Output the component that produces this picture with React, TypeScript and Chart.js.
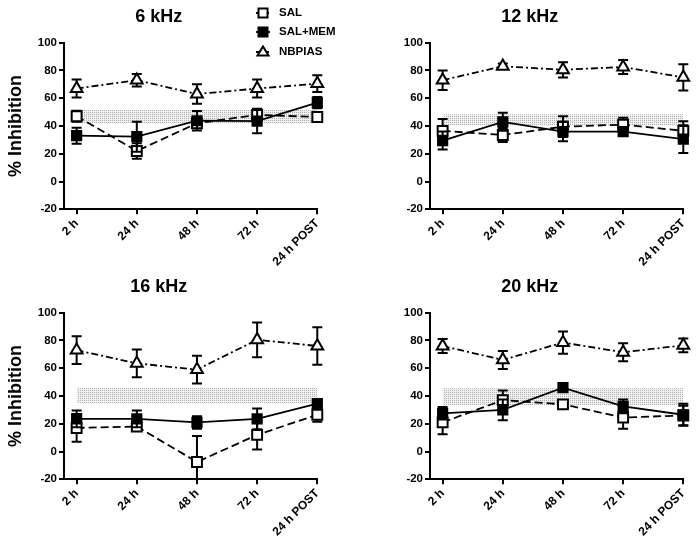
import React, { useEffect, useRef } from 'react';
import { Chart, registerables } from 'chart.js';

Chart.register(...registerables);

// ---------- data ----------
const timeLabels = ['2 h', '24 h', '48 h', '72 h', '24 h POST'];
const seriesNames = ['SAL', 'SAL+MEM', 'NBPIAS'];
const yTickValues = [-20, 0, 20, 40, 60, 80, 100];
const panelTitles = ['6 kHz', '12 kHz', '16 kHz', '20 kHz'];

// 6 kHz
const sal6 = [47, 22, 42, 48, 46.5];
const salErr6 = [4, 5.5, 3, 4.5, 3.5];
const mem6 = [33, 32.3, 43.8, 43.5, 56.8];
const memErr6 = [5.7, 10.8, 7, 8.7, 4];
const nb6 = [67, 73, 63, 67, 70.5];
const nbErr6 = [6.5, 4.5, 7, 6.5, 6];
const band6 = [42, 51.5];

// 12 kHz
const sal12 = [36.5, 33.5, 39.5, 41, 36.5];
const salErr12 = [8.5, 5, 7.5, 5, 7];
const mem12 = [29.5, 43, 36, 36, 30.5];
const memErr12 = [6.5, 6.5, 7, 2.5, 10];
const nb12 = [73, 83, 80.5, 82.5, 75];
const nbErr12 = [7, 2, 5.5, 5, 9.5];
const band12 = [40.5, 48.5];

// 16 kHz
const sal16 = [17, 18, -7.5, 12, 26.5];
const salErr16 = [10, 3, 18.7, 10.5, 5];
const mem16 = [23.5, 23.5, 21, 23.5, 34.5];
const memErr16 = [6, 6, 4.5, 7.5, 3];
const nb16 = [73, 63.5, 59, 80.5, 76];
const nbErr16 = [10, 10, 10, 12.5, 13.5];
const band16 = [35, 46];

// 20 kHz
const sal20 = [21, 37, 34, 24.5, 26];
const salErr20 = [8.5, 7, 2, 8, 7];
const mem20 = [27.5, 30, 46, 32.5, 26.5];
const memErr20 = [4.5, 7.5, 3, 5, 8];
const nb20 = [76, 66, 78.5, 71.5, 76.5];
const nbErr20 = [5, 6.5, 8, 6.5, 5];
const band20 = [33.5, 45.5];

// ---------- styling ----------
const FONT = "'Liberation Sans', Arial, Helvetica, sans-serif";

type Panel = {
  title: string;
  sal: number[]; salErr: number[];
  mem: number[]; memErr: number[];
  nb: number[]; nbErr: number[];
  band: number[];
  left: number; top: number; w: number; h: number;
  yWidth: number; padRight: number; yTitle: boolean; legend: boolean;
};

const panels: Panel[] = [
  { title: panelTitles[0], sal: sal6, salErr: salErr6, mem: mem6, memErr: memErr6, nb: nb6, nbErr: nbErr6, band: band6,
    left: 0, top: 0, w: 347, h: 270, yWidth: 64, padRight: 29.7, yTitle: true, legend: true },
  { title: panelTitles[1], sal: sal12, salErr: salErr12, mem: mem12, memErr: memErr12, nb: nb12, nbErr: nbErr12, band: band12,
    left: 376, top: 0, w: 324, h: 270, yWidth: 54, padRight: 16.7, yTitle: false, legend: false },
  { title: panelTitles[2], sal: sal16, salErr: salErr16, mem: mem16, memErr: memErr16, nb: nb16, nbErr: nbErr16, band: band16,
    left: 0, top: 270, w: 347, h: 270, yWidth: 64, padRight: 29.7, yTitle: true, legend: false },
  { title: panelTitles[3], sal: sal20, salErr: salErr20, mem: mem20, memErr: memErr20, nb: nb20, nbErr: nbErr20, band: band20,
    left: 376, top: 270, w: 324, h: 270, yWidth: 54, padRight: 16.7, yTitle: false, legend: false },
];

const salDash = [8, 4];
const nbDash = [7, 3, 2, 3];

function makePattern(): CanvasPattern | string {
  const c = document.createElement('canvas');
  c.width = 2; c.height = 2;
  const g = c.getContext('2d');
  if (!g) return '#ddd';
  g.fillStyle = '#f0f0f0';
  g.fillRect(0, 0, 2, 2);
  g.fillStyle = '#b0b0b0';
  g.fillRect(0, 0, 1, 1);
  return g.createPattern(c, 'repeat') || '#ddd';
}

const errorBarPlugin = {
  id: 'errorBars',
  beforeDatasetDraw(chart: any, args: any) {
    const ds = chart.data.datasets[args.index];
    if (!ds.errors) return;
    const ctx = chart.ctx;
    const xs = chart.scales.x;
    const ys = chart.scales.y;
    const area = chart.chartArea;
    ctx.save();
    ctx.beginPath();
    ctx.rect(0, 0, chart.width, area.bottom);
    ctx.clip();
    ctx.strokeStyle = '#000';
    ctx.lineWidth = 2;
    ctx.setLineDash([]);
    ds.data.forEach((pt: any, i: number) => {
      const e = ds.errors[i];
      const px = xs.getPixelForValue(pt.x);
      const top = ys.getPixelForValue(pt.y + e);
      const bot = ys.getPixelForValue(pt.y - e);
      ctx.beginPath();
      ctx.moveTo(px, top); ctx.lineTo(px, bot);
      ctx.moveTo(px - 5, top); ctx.lineTo(px + 5, top);
      ctx.moveTo(px - 5, bot); ctx.lineTo(px + 5, bot);
      ctx.stroke();
    });
    ctx.restore();
  },
};

const legendPlugin = {
  id: 'customLegend',
  afterDraw(chart: any) {
    if (!chart.options.plugins.customLegend?.show) return;
    const ctx = chart.ctx;
    const mx = 263;
    const tx = 279;
    const rows = [13, 32, 52];
    ctx.save();
    seriesNames.forEach((name, i) => {
      const y = rows[i];
      ctx.strokeStyle = '#000';
      ctx.lineWidth = 1.8;
      ctx.setLineDash(i === 0 ? [3, 2] : i === 2 ? [3, 2] : []);
      ctx.beginPath();
      ctx.moveTo(mx - 7, y); ctx.lineTo(mx + 7, y);
      ctx.stroke();
      ctx.setLineDash([]);
      ctx.lineWidth = 2;
      if (i < 2) {
        ctx.fillStyle = i === 0 ? '#fff' : '#000';
        ctx.fillRect(mx - 4.5, y - 4.5, 9, 9);
        ctx.strokeRect(mx - 4.5, y - 4.5, 9, 9);
      } else {
        ctx.fillStyle = '#fff';
        ctx.beginPath();
        ctx.moveTo(mx, y - 5.5);
        ctx.lineTo(mx + 5.5, y + 3.5);
        ctx.lineTo(mx - 5.5, y + 3.5);
        ctx.closePath();
        ctx.fill();
        ctx.stroke();
      }
      ctx.fillStyle = '#000';
      ctx.font = `bold 11.5px ${FONT}`;
      ctx.textBaseline = 'middle';
      ctx.textAlign = 'left';
      ctx.fillText(name, tx, y);
    });
    ctx.restore();
  },
};

function buildConfig(p: Panel): any {
  const xy = (arr: number[]) => arr.map((v, i) => ({ x: i, y: v }));
  const pattern = makePattern();
  const lastX = timeLabels.length - 1;
  const tickFont = { family: FONT, size: 11.5, weight: 'bold' as const };
  return {
    type: 'line',
    data: {
      datasets: [
        {
          label: 'bandHigh',
          data: [{ x: 0, y: p.band[1] }, { x: lastX, y: p.band[1] }],
          borderColor: 'transparent', borderWidth: 0, pointRadius: 0, fill: false, order: 10,
        },
        {
          label: 'bandLow',
          data: [{ x: 0, y: p.band[0] }, { x: lastX, y: p.band[0] }],
          borderColor: 'transparent', borderWidth: 0, pointRadius: 0, fill: '-1',
          backgroundColor: pattern, order: 10,
        },
        {
          label: seriesNames[0], data: xy(p.sal), errors: p.salErr, clip: false,
          borderColor: '#000', borderWidth: 1.8, borderDash: salDash, fill: false,
          pointStyle: 'rect', pointRadius: 7, pointBackgroundColor: '#fff',
          pointBorderColor: '#000', pointBorderWidth: 2, order: 2,
        },
        {
          label: seriesNames[1], data: xy(p.mem), errors: p.memErr, clip: false,
          borderColor: '#000', borderWidth: 1.8, fill: false,
          pointStyle: 'rect', pointRadius: 6.5, pointBackgroundColor: '#000',
          pointBorderColor: '#000', pointBorderWidth: 2, order: 1,
        },
        {
          label: seriesNames[2], data: xy(p.nb), errors: p.nbErr, clip: false,
          borderColor: '#000', borderWidth: 1.8, borderDash: nbDash, fill: false,
          pointStyle: 'triangle', pointRadius: 6.8, pointBackgroundColor: '#fff',
          pointBorderColor: '#000', pointBorderWidth: 2, order: 0,
        },
      ],
    },
    options: {
      animation: false,
      responsive: false,
      devicePixelRatio: 1,
      layout: { padding: { left: 0, right: p.padRight, top: 0, bottom: 0 } },
      plugins: {
        legend: { display: false },
        tooltip: { enabled: false },
        filler: { propagate: false },
        customLegend: { show: p.legend },
        title: {
          display: true, text: p.title, color: '#000',
          font: { family: FONT, size: 18, weight: 'bold' },
          padding: { top: 6.5, bottom: 14.6 },
        },
      },
      scales: {
        x: {
          type: 'linear', min: -0.21, max: lastX,
          afterBuildTicks: (s: any) => { s.ticks = timeLabels.map((_, i) => ({ value: i })); },
          afterFit: (s: any) => { s.height = 60.7; },
          ticks: {
            autoSkip: false, minRotation: 45, maxRotation: 45, color: '#000', padding: 2,
            font: { family: FONT, size: 12, weight: 'bold' },
            callback: (_v: any, i: number) => timeLabels[i],
          },
          grid: { display: true, drawOnChartArea: false, drawTicks: true, tickLength: 5, color: '#000', lineWidth: 2 },
          border: { display: true, color: '#000', width: 2 },
        },
        y: {
          type: 'linear', min: yTickValues[0], max: yTickValues[yTickValues.length - 1],
          afterBuildTicks: (s: any) => { s.ticks = yTickValues.map((v) => ({ value: v })); },
          afterFit: (s: any) => { s.width = p.yWidth; },
          ticks: { color: '#000', padding: 2, font: tickFont },
          grid: { display: true, drawOnChartArea: false, drawTicks: true, tickLength: 5, color: '#000', lineWidth: 2 },
          border: { display: true, color: '#000', width: 2 },
          title: {
            display: p.yTitle, text: '% Inhibition', color: '#000',
            font: { family: FONT, size: 18, weight: 'bold' },
            padding: { top: 5, bottom: 0 },
          },
        },
      },
    },
    plugins: [errorBarPlugin, legendPlugin],
  };
}

function PanelChart({ p }: { p: Panel }) {
  const ref = useRef<HTMLCanvasElement | null>(null);
  useEffect(() => {
    if (!ref.current) return;
    const chart = new Chart(ref.current, buildConfig(p));
    return () => chart.destroy();
  }, [p]);
  return (
    <canvas
      ref={ref}
      width={p.w}
      height={p.h}
      style={{ position: 'absolute', left: p.left, top: p.top, width: p.w, height: p.h }}
    />
  );
}

export default function App() {
  return (
    <div style={{ position: 'fixed', left: 0, top: 0, width: 700, height: 547, background: '#fff', overflow: 'hidden' }}>
      {panels.map((p) => (
        <PanelChart key={p.title} p={p} />
      ))}
    </div>
  );
}
